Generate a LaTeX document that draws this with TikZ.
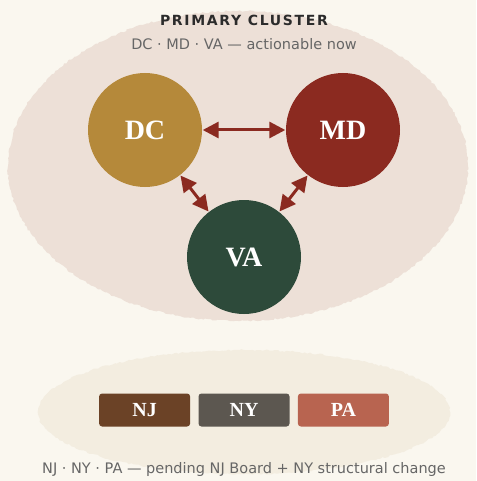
\documentclass[tikz,border=0pt]{standalone}
\usepackage{fontspec}
\setmainfont{Liberation Serif}
\setsansfont{DejaVu Sans}
\usetikzlibrary{arrows.meta,positioning,decorations.pathmorphing}

\definecolor{paper}{HTML}{FAF7EF}
\definecolor{clusterbg}{HTML}{EDE0D7}
\definecolor{pendingbg}{HTML}{F3EDE0}
\definecolor{dccol}{HTML}{B5893A}
\definecolor{mdcol}{HTML}{8B2A20}
\definecolor{vacol}{HTML}{2D4A3A}
\definecolor{njcol}{HTML}{6B4226}
\definecolor{nycol}{HTML}{5C5750}
\definecolor{pacol}{HTML}{B86450}
\definecolor{inkdark}{HTML}{2B2B2B}
\definecolor{inkgray}{HTML}{666666}

\begin{document}
\begin{tikzpicture}[x=1pt,y=-1pt,
  link/.style={{Triangle[length=16pt,width=16pt]}-{Triangle[length=16pt,width=16pt]},
    draw=mdcol,line width=3pt,shorten >=0.5pt,shorten <=0.5pt},
  blob/.style={decorate,decoration={random steps,segment length=2.5pt,amplitude=0.9pt}}]
  \tikzstyle{state}=[circle,minimum size=114pt,inner sep=0pt,text=white,
    font=\fontsize{28}{32}\selectfont\bfseries]
  \tikzstyle{tag}=[rectangle,rounded corners=3pt,minimum width=91pt,minimum height=33pt,
    inner sep=0pt,text=white,font=\fontsize{20}{24}\selectfont\bfseries]
  \tikzstyle{caption}=[text=inkgray,font=\sffamily\fontsize{14.5}{17}\selectfont]

  % background and the two groups
  \fill[paper] (0,0) rectangle (476,481);
  \useasboundingbox (0,0) rectangle (476,481);
  \fill[clusterbg,blob] (238,166) ellipse [x radius=230pt,y radius=155pt];
  \fill[pendingbg,blob] (244,412) ellipse [x radius=206pt,y radius=62pt];

  \node (title) at (244,20) {\sffamily\bfseries\fontsize{14}{16}\selectfont
    \addfontfeatures{LetterSpace=12}\color{inkdark}PRIMARY CLUSTER};
  \node[caption] (sub) at (244,44) {DC · MD · VA — actionable now};

  \node[state,fill=dccol] (dc) at (145,130) {DC};
  \node[state,fill=mdcol] (md) at (343,130) {MD};
  \node[state,fill=vacol] (va) at (244,257) {VA};

  \draw[link] (dc) -- (md);
  \draw[link] (dc) -- (va);
  \draw[link] (md) -- (va);

  \node[tag,fill=nycol] (ny) at (244,410) {NY};
  \node[tag,fill=njcol] (nj) [left=8pt of ny] {NJ};
  \node[tag,fill=pacol] (pa) [right=8pt of ny] {PA};

  \node[caption] (pend) at (244,469) {NJ · NY · PA — pending NJ Board + NY structural change};
\end{tikzpicture}
\end{document}
